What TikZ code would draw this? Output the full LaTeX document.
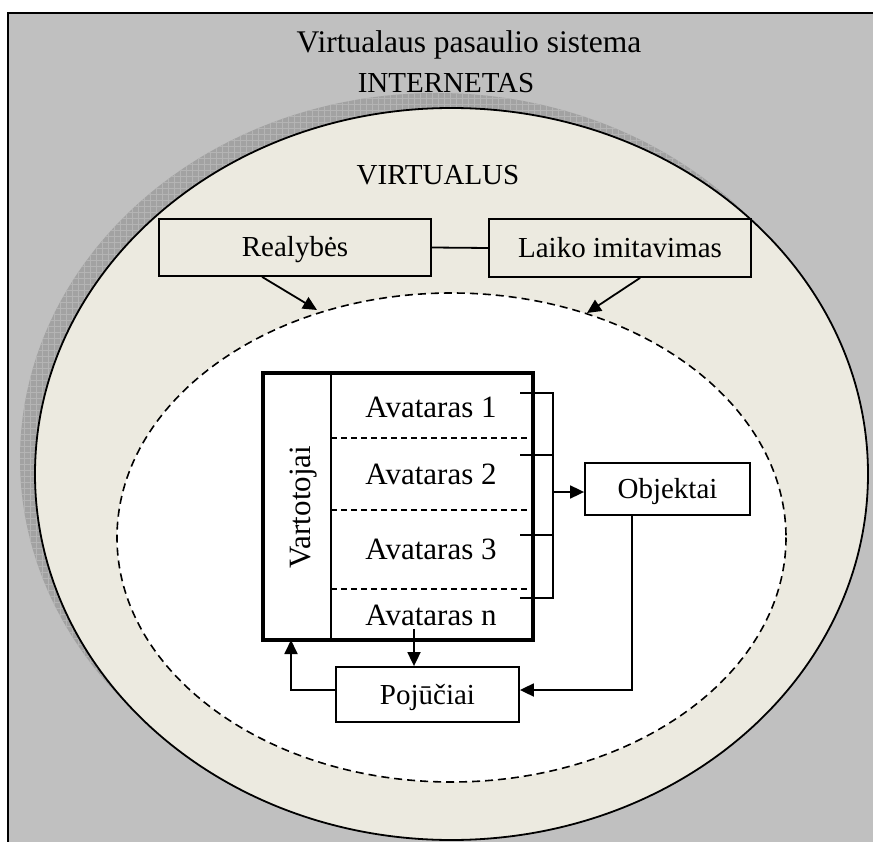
\documentclass[tikz,border=0pt]{standalone}
\usepackage{fontspec}
\setmainfont{Liberation Serif}
\usetikzlibrary{arrows.meta,patterns.meta}
\definecolor{bggray}{HTML}{C0C0C0}
\definecolor{beige}{HTML}{ECEAE0}
\definecolor{shadowgray}{HTML}{A2A2A2}
\definecolor{hatchgray}{HTML}{B4B4B4}
\begin{document}
\begin{tikzpicture}[x=1pt,y=-1pt,
  box/.style={draw,line width=1.8pt,inner sep=0pt,text height=19pt,text depth=0pt,font=\fontsize{29}{34}\selectfont},
  txt/.style={inner sep=0pt,anchor=base,font=\fontsize{29}{34}\selectfont},
  avtxt/.style={inner sep=0pt,anchor=base,font=\fontsize{31}{36}\selectfont},
  ln/.style={line width=1.8pt},
  arr/.style={line width=1.8pt,-{Triangle[length=14pt,width=13pt]}}]
\useasboundingbox (0,0) rectangle (873,842);
\begin{scope}
\clip (0,0) rectangle (873,842);
\fill[white] (0,0) rectangle (873,842);
\fill[bggray] (8,13) rectangle (880,850);
\draw[line width=1.8pt] (8,850) -- (8,13) -- (880,13);
% shadow of the outer ellipse
\fill[shadowgray] (436.5,459) ellipse [x radius=416.5, y radius=366];
\fill[pattern={Hatch[angle=0,distance=6pt,line width=0.6pt]},pattern color=hatchgray] (436.5,459) ellipse [x radius=416.5, y radius=366];
% outer ellipse
\filldraw[fill=beige, line width=1.8pt] (451.5,474) ellipse [x radius=416.5, y radius=366];
% inner dashed ellipse
\filldraw[fill=white, dash pattern=on 8pt off 5pt, line width=1.6pt] (451.5,537.5) ellipse [x radius=334.5, y radius=244.5];
\end{scope}

% titles
\node[inner sep=0pt,anchor=base,font=\fontsize{31.5}{36}\selectfont] (title) at (469,53) {Virtualaus pasaulio sistema};
\node[txt] (inet) at (446,93) {INTERNETAS};
\node[txt] (virt) at (438,185) {VIRTUALUS};

% top boxes
\node[box, fill=beige, minimum width=272pt, minimum height=57pt] (real) at (295,247.5) {Realybės};
\node[box, fill=beige, minimum width=262pt, minimum height=58pt] (laiko) at (620,248) {Laiko imitavimas};
\draw[ln] (real.east) -- (laiko.west);
\coordinate (dtl) at (317,310);
\coordinate (dtr) at (587,313);
\draw[arr] ([xshift=104pt]real.south west) -- (dtl);
\draw[arr] ([xshift=152pt]laiko.south west) -- (dtr);

% users block
\node[draw, line width=3.3pt, minimum width=270pt, minimum height=267pt, inner sep=0pt] (blk) at (398,506.5) {};
\coordinate (divx) at (331,0);
\draw[ln] (blk.north -| divx) -- (blk.south -| divx);
\draw[line width=1.5pt, dash pattern=on 6pt off 4pt] (331,438) -- (527,438);
\draw[line width=1.5pt, dash pattern=on 6pt off 4pt] (331,510) -- (527,510);
\draw[line width=1.5pt, dash pattern=on 6pt off 4pt] (331,589) -- (527,589);
\node[avtxt, rotate=90] (vart) at (310,507) {Vartotojai};
\node[avtxt] (av1) at (431,417) {Avataras 1};
\node[avtxt] (av2) at (431,484) {Avataras 2};
\node[avtxt] (av3) at (431,559) {Avataras 3};
\node[avtxt] (avn) at (431,625) {Avataras n};

% bracket to objects
\draw[ln] (520,393) -- (553,393) -- (553,598) -- (520,598);
\draw[ln] (520,455) -- (553,455);
\draw[ln] (520,535) -- (553,535);

\node[box, fill=white, minimum width=165pt, minimum height=52pt] (obj) at (667.5,489) {Objektai};
\node[box, fill=white, minimum width=183pt, minimum height=55pt] (poj) at (427.5,694.5) {Pojūčiai};

\coordinate (bm) at (553,492);
\draw[arr] (bm) -- (bm -| obj.west);
\draw[arr] ([xshift=48pt]obj.south west) |- ([yshift=4.5pt]poj.east);
\coordinate (avo) at (414,629);
\draw[arr] (avo) -- (avo |- poj.north);
\coordinate (fb) at (291,640);
\draw[arr] ([yshift=4.5pt]poj.west) -| (fb);
\end{tikzpicture}
\end{document}
